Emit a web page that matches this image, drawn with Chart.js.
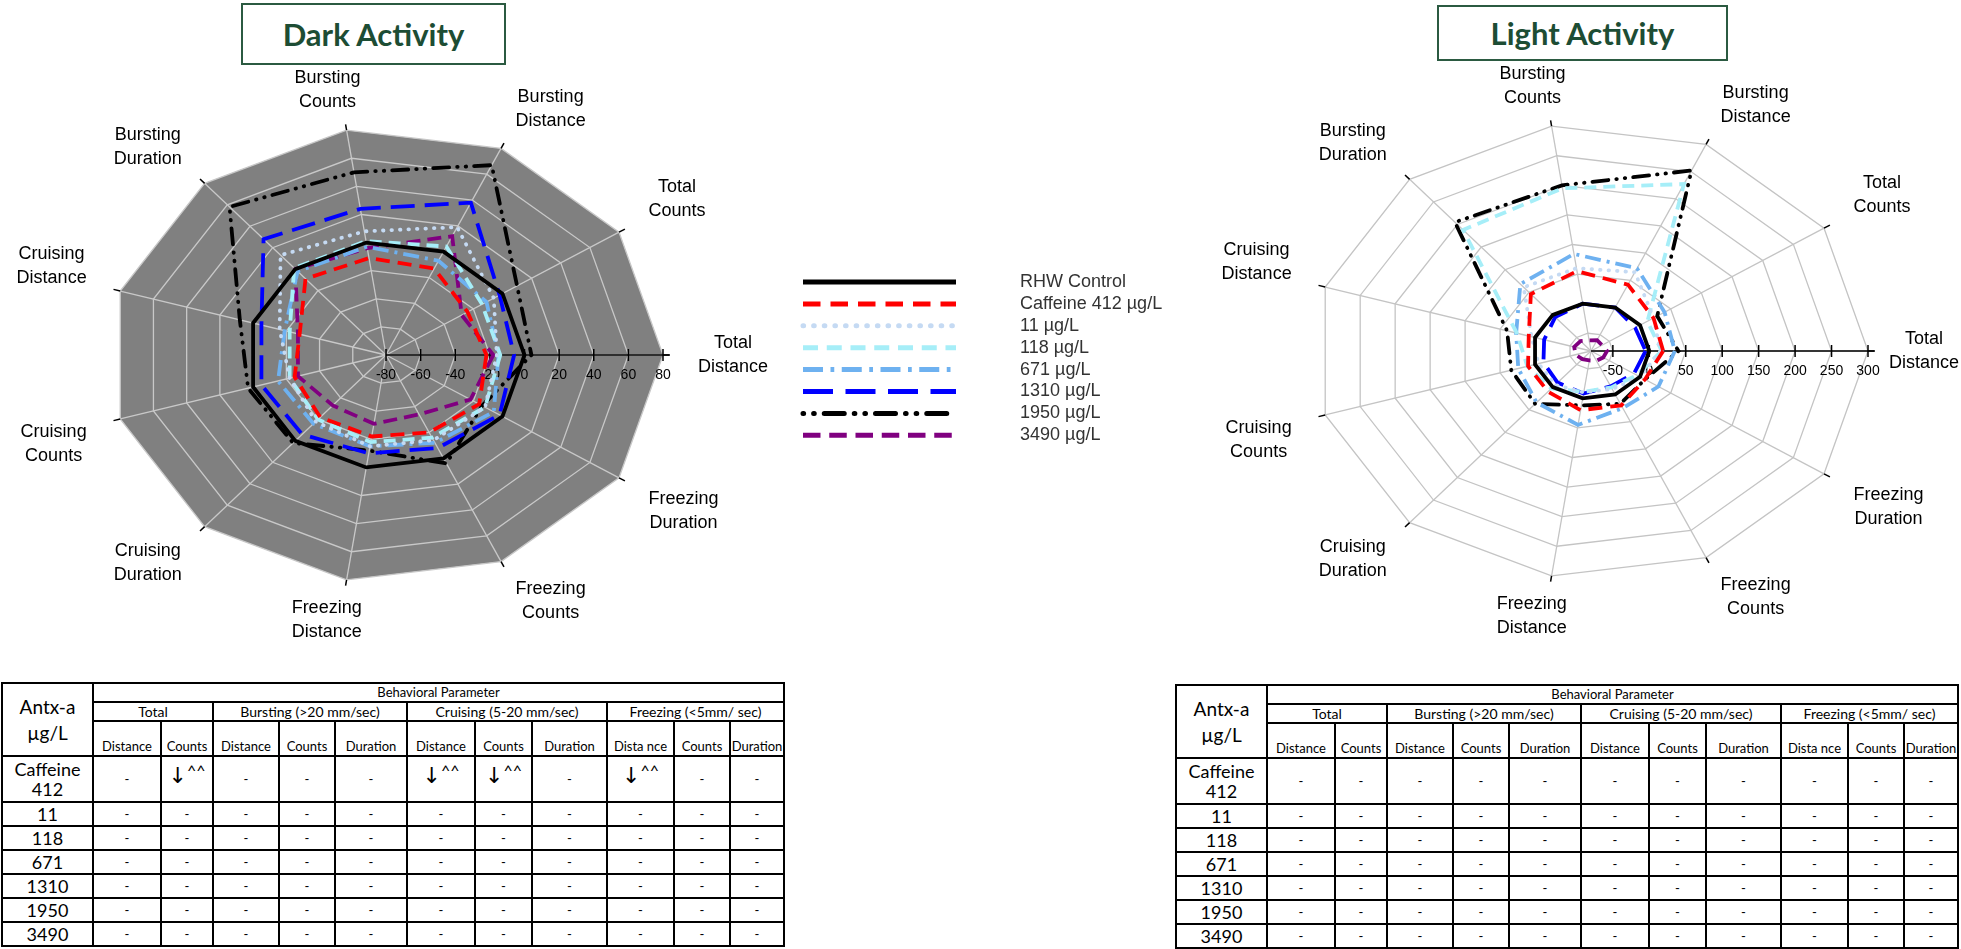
<!DOCTYPE html>
<html>
<head>
<meta charset="utf-8">
<script src="https://cdn.jsdelivr.net/npm/chart.js@4.4.1/dist/chart.umd.min.js"></script>
<style>
  body { margin: 0; width: 1961px; height: 949px; background: #fff; position: relative; overflow: hidden; }
  .title { position: absolute; box-sizing: border-box; border: 2px solid #2b5a41; color: #1d4d34;
           font: bold 31px Lato, sans-serif; display: flex; align-items: center; justify-content: center; }
  canvas { position: absolute; }
  table.beh { position: absolute; border-collapse: collapse; table-layout: fixed; font-family: Lato, sans-serif; color: #000; }
  table.beh td { border: 2px solid #000; text-align: center; padding: 0; overflow: hidden; white-space: nowrap; line-height: 1; }
  table.beh td.rowlab { font-size: 18px; line-height: 20px; }
  table.beh td.param { font-size: 13px; vertical-align: bottom; padding-bottom: 2px; }
  table.beh td.grp { font-size: 14px; }
  table.beh td.top { font-size: 13px; }
  table.beh td.mark { font-size: 13px; }
  table.beh td.arrow { font-size: 16px; vertical-align: top; padding-top: 5px; }
  table.beh td.arrow span { font: 22px "DejaVu Sans", sans-serif; vertical-align: -7px; }
  table.beh td.antx { font-size: 19px; line-height: 26px; }
</style>
</head>
<body>
<div class="title" style="left:241px; top:3px; width:265px; height:62px;">Dark Activity</div>
<div class="title" style="left:1437px; top:5px; width:291px; height:56px;">Light Activity</div>
<canvas id="dark" width="1220" height="680" style="left:0; top:0;"></canvas>
<canvas id="light" width="741" height="680" style="left:1220px; top:0;"></canvas>
<table class="beh" id="darkTable" style="left:1px; top:682px;"></table>
<table class="beh" id="lightTable" style="left:1175px; top:684px;"></table>
<script>
// axes, clockwise from the right-hand spoke
const categories = [
  ['Total', 'Distance'], ['Freezing', 'Duration'], ['Freezing', 'Counts'], ['Freezing', 'Distance'],
  ['Cruising', 'Duration'], ['Cruising', 'Counts'], ['Cruising', 'Distance'], ['Bursting', 'Duration'],
  ['Bursting', 'Counts'], ['Bursting', 'Distance'], ['Total', 'Counts']
];
const seriesNames = ['RHW Control', 'Caffeine 412 µg/L', '11 µg/L', '118 µg/L', '671 µg/L', '1310 µg/L', '1950 µg/L', '3490 µg/L'];

// dark period, % change
const darkControl  = [0, 0, 0, 0, 0, 0, 0, 0, 0, 0, 0];
const darkCaffeine = [-22, -16, -20, -22, -22, -25, -28, -9, -11, -13, -24];
const dark11       = [-16, -12, -14, -15, -18, -22, -16, 13, 8, 19, -6];
const dark118      = [-14, -12, -16, -18, -20, -22, -22, 1, 1, 4, -14];
const dark671      = [-15, -6, -12, -15, -16, -15, -19, -2, -3, -7, -11];
const dark1310     = [-6, -2, -8, -10, -6, -5, -5, 28, 24, 38, -2];
const dark1950     = [4, -14, 4, -12, 2, 3, 8, 58, 50, 67, 10];
const dark3490     = [-18, -22, -34, -31, -33, -27, -27, 0, -4, 12, -28];
const darkTicks    = [-80, -60, -40, -20, 0, 20, 40, 60, 80];

// light period, % change
const lightControl  = [0, 0, 0, 0, 0, 0, 0, 0, 0, 0, 0];
const lightCaffeine = [19, 8, 20, 20, 10, 10, 9, 46, 55, 42, 22];
const light11       = [15, 0, -10, -10, -5, -5, 5, 61, 60, 65, 22];
const light118      = [17, -5, -13, -11, 3, 11, 26, 188, 195, 227, 12];
const light671      = [35, 30, 25, 45, 34, 24, 27, 68, 84, 72, 40];
const light1310     = [-5, -10, -15, -8, -10, -12, -13, -5, 0, 0, -8];
const light1950     = [40, 8, 17, 12, 37, 34, 40, 205, 200, 252, 28];
const light3490     = [-58, -60, -62, -64, -62, -58, -56, -58, -62, -60, -62];
const lightTicks    = [-50, 0, 50, 100, 150, 200, 250, 300];

// table
const tableGroups = [['Total', 2], ['Bursting (>20 mm/sec)', 3], ['Cruising (5-20 mm/sec)', 3], ['Freezing (<5mm/ sec)', 3]];
const tableParams = ['Distance', 'Counts', 'Distance', 'Counts', 'Duration', 'Distance', 'Counts', 'Duration', 'Dista nce', 'Counts', 'Duration'];
const tableRowLabels = [['Caffeine', '412'], ['11'], ['118'], ['671'], ['1310'], ['1950'], ['3490']];
const darkCaffeineMarks = ['-', '↓^^', '-', '-', '-', '↓^^', '↓^^', '-', '↓^^', '-', '-'];
const noChange = ['-', '-', '-', '-', '-', '-', '-', '-', '-', '-', '-'];

const lineStyles = [
  { color: '#000000', dash: [], cap: 'butt' },
  { color: '#ff0000', dash: [14, 8], cap: 'butt' },
  { color: '#c5daf3', dash: [0.5, 8], cap: 'round' },
  { color: '#a6eef8', dash: [12, 7], cap: 'butt' },
  { color: '#6eb1f0', dash: [16, 6, 3, 6], cap: 'butt' },
  { color: '#0000ff', dash: [24, 10], cap: 'butt' },
  { color: '#000000', dash: [0.5, 8, 0.5, 8, 16, 8], cap: 'round' },
  { color: '#800080', dash: [14, 7], cap: 'butt' }
];

const Y_SQUASH = 0.82;

// radial scale drawn a little flatter than it is wide, like the source figure
class SquashedRadialScale extends Chart.RadialLinearScale {
  static id = 'squashedRadial';
  getPointPosition(index, distance, extra) {
    const p = super.getPointPosition(index, distance, extra);
    p.y = this.yCenter + (p.y - this.yCenter) * Y_SQUASH;
    return p;
  }
}
Chart.register(SquashedRadialScale);

const labelFont = '18px "Liberation Sans", Arial, sans-serif';

const axisMarks = {
  id: 'axisMarks',
  beforeDatasetsDraw(chart) {
    const s = chart.scales.r, ctx = chart.ctx, R = s.drawingArea;
    ctx.save();
    ctx.strokeStyle = '#000';
    ctx.lineWidth = 1.5;
    for (let i = 0; i < chart.data.labels.length; i++) {
      const a = s.getPointPosition(i, R), b = s.getPointPosition(i, R + 7);
      ctx.beginPath(); ctx.moveTo(a.x, a.y); ctx.lineTo(b.x, b.y); ctx.stroke();
    }
    ctx.beginPath(); ctx.moveTo(s.xCenter, s.yCenter); ctx.lineTo(s.xCenter + R + 6, s.yCenter); ctx.stroke();
    ctx.font = '14px "Liberation Sans", Arial, sans-serif';
    ctx.fillStyle = '#000';
    ctx.textAlign = 'center';
    ctx.textBaseline = 'middle';
    s.ticks.forEach(t => {
      const x = s.xCenter + s.getDistanceFromCenterForValue(t.value);
      ctx.beginPath(); ctx.moveTo(x, s.yCenter - 6); ctx.lineTo(x, s.yCenter + 6); ctx.stroke();
      ctx.fillText(t.label, x, s.yCenter + 20);
    });
    ctx.restore();
  }
};

const axisLabels = {
  id: 'axisLabels',
  afterDraw(chart) {
    const s = chart.scales.r, ctx = chart.ctx, lineH = 24, R = s.drawingArea;
    ctx.save();
    ctx.font = labelFont;
    ctx.fillStyle = '#000';
    ctx.textAlign = 'center';
    ctx.textBaseline = 'middle';
    chart.data.labels.forEach((lab, i) => {
      const lines = Array.isArray(lab) ? lab : [lab];
      const w = Math.max(...lines.map(t => ctx.measureText(t).width));
      const h = lines.length * lineH;
      const a = s.getIndexAngle(i) - Math.PI / 2;
      const px = s.xCenter + Math.cos(a) * (R + 35);
      const py = s.yCenter + Math.sin(a) * (R + 20) * Y_SQUASH;
      let cx = px + Math.max(-1, Math.min(1, Math.cos(a) * 3)) * w / 2;
      cx = Math.min(cx, chart.width - w / 2 - 2);
      const cy = py + Math.max(-1, Math.min(1, Math.sin(a) * 3)) * h / 2;
      lines.forEach((t, j) => ctx.fillText(t, cx, cy - h / 2 + lineH * (j + 0.5)));
    });
    ctx.restore();
  }
};

const sideLegend = {
  id: 'sideLegend',
  afterDraw(chart) {
    const ctx = chart.ctx;
    ctx.save();
    chart.data.datasets.forEach((ds, i) => {
      const y = 282 + i * 21.9;
      ctx.strokeStyle = ds.borderColor;
      ctx.lineWidth = 5;
      ctx.lineCap = ds.borderCapStyle;
      ctx.setLineDash(ds.borderDash.map(d => d * 1.25));
      ctx.beginPath(); ctx.moveTo(803, y); ctx.lineTo(956, y); ctx.stroke();
      ctx.setLineDash([]);
      ctx.font = labelFont;
      ctx.fillStyle = '#333';
      ctx.textBaseline = 'middle';
      ctx.fillText(ds.label, 1020, y);
    });
    ctx.restore();
  }
};

function makeDatasets(values) {
  return seriesNames.map((name, i) => ({
    label: name,
    data: values[i],
    borderColor: lineStyles[i].color,
    borderDash: lineStyles[i].dash,
    borderCapStyle: lineStyles[i].cap,
    borderJoinStyle: 'miter',
    borderWidth: 3.8,
    pointRadius: 0,
    fill: false,
    tension: 0
  }));
}

function makeScale(min, max, ticks, bg, gridColor) {
  return {
    type: 'squashedRadial',
    min: min,
    max: max,
    startAngle: 90,
    backgroundColor: bg,
    grid: { color: gridColor, lineWidth: 1.3 },
    angleLines: { color: gridColor, lineWidth: 1.3 },
    pointLabels: { display: false },
    ticks: { display: false },
    afterBuildTicks: s => { s.ticks = ticks.map(v => ({ value: v })); }
  };
}

const commonPlugins = { legend: { display: false }, tooltip: { enabled: false } };

new Chart(document.getElementById('dark'), {
  type: 'radar',
  data: {
    labels: categories,
    datasets: makeDatasets([darkControl, darkCaffeine, dark11, dark118, dark671, dark1310, dark1950, dark3490])
  },
  options: {
    responsive: false,
    animation: false,
    layout: { padding: { left: 109, right: 557, top: 78, bottom: 48 } },
    scales: { r: makeScale(-80, 80, darkTicks, '#808080', '#c8c8c8') },
    plugins: commonPlugins
  },
  plugins: [axisMarks, axisLabels, sideLegend]
});

new Chart(document.getElementById('light'), {
  type: 'radar',
  data: {
    labels: categories,
    datasets: makeDatasets([lightControl, lightCaffeine, light11, light118, light671, light1310, light1950, light3490])
  },
  options: {
    responsive: false,
    animation: false,
    layout: { padding: { left: 94, right: 93, top: 74, bottom: 52 } },
    scales: { r: makeScale(-80, 300, lightTicks, undefined, '#c4c4c4') },
    plugins: commonPlugins
  },
  plugins: [axisMarks, axisLabels]
});

// behaviour tables
const colWidths = [91, 68, 52, 66, 56, 72, 68, 57, 75, 67, 56, 54];
const rowHeights = [19, 19, 35, 46, 24, 24, 24, 24, 24, 24];

function esc(s) { return s.replace(/</g, '&lt;').replace(/>/g, '&gt;'); }

function buildTable(id, firstRowMarks) {
  const t = document.getElementById(id);
  let html = '<colgroup>' + colWidths.map(w => `<col style="width:${w}px">`).join('') + '</colgroup>';
  html += `<tr style="height:${rowHeights[0]}px"><td class="antx" rowspan="3">Antx-a<br>µg/L</td><td class="top" colspan="11">Behavioral Parameter</td></tr>`;
  html += `<tr style="height:${rowHeights[1]}px">` + tableGroups.map(g => `<td class="grp" colspan="${g[1]}">${esc(g[0])}</td>`).join('') + '</tr>';
  html += `<tr style="height:${rowHeights[2]}px">` + tableParams.map(p => `<td class="param">${p}</td>`).join('') + '</tr>';
  tableRowLabels.forEach((lab, r) => {
    const marks = r === 0 ? firstRowMarks : noChange;
    html += `<tr style="height:${rowHeights[3 + r]}px"><td class="rowlab">${lab.join('<br>')}</td>` +
      marks.map(m => m === '-' ? '<td class="mark">-</td>'
                              : `<td class="arrow"><span>${m[0]}</span>${m.slice(1)}</td>`).join('') + '</tr>';
  });
  t.innerHTML = html;
}
buildTable('darkTable', darkCaffeineMarks);
buildTable('lightTable', noChange);
</script>
</body>
</html>
